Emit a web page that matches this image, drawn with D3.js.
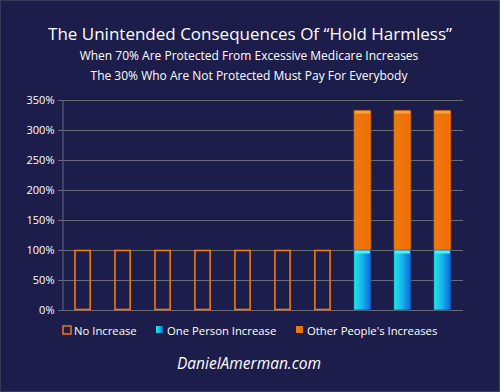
<!DOCTYPE html>
<html>
<head>
<meta charset="utf-8">
<script src="https://cdn.jsdelivr.net/npm/d3@7"></script>
<style>
  body { margin: 0; background: #1d1d4b; }
  svg { display: block; font-family: "Open Sans", "Liberation Sans", sans-serif; }
</style>
</head>
<body>
<svg width="500" height="392"></svg>
<script>
// chart data
var categories = ['1', '2', '3', '4', '5', '6', '7', '8', '9', '10'];
var noIncrease = [100, 100, 100, 100, 100, 100, 100, 0, 0, 0];
var onePerson = [0, 0, 0, 0, 0, 0, 0, 100, 100, 100];
var otherPeople = [0, 0, 0, 0, 0, 0, 0, 233, 233, 233];
var yTicks = [0, 50, 100, 150, 200, 250, 300, 350];
var legendLabels = ['No Increase', 'One Person Increase', "Other People's Increases"];

var svg = d3.select('svg');

svg.append('rect')
  .attr('x', 0.5).attr('y', 0.5)
  .attr('width', 499).attr('height', 391)
  .style('fill', '#1d1d4b')
  .style('stroke', '#3a3a55');

// gradients
var defs = svg.append('defs');
var blue = defs.append('linearGradient').attr('id', 'blueGrad')
  .attr('x1', '0%').attr('x2', '100%').attr('y1', '0%').attr('y2', '0%');
blue.append('stop').attr('offset', '0%').attr('stop-color', '#22e6e6');
blue.append('stop').attr('offset', '45%').attr('stop-color', '#18b8ee');
blue.append('stop').attr('offset', '100%').attr('stop-color', '#1062d8');
var orange = defs.append('linearGradient').attr('id', 'orangeGrad')
  .attr('x1', '0%').attr('x2', '100%').attr('y1', '0%').attr('y2', '0%');
orange.append('stop').attr('offset', '0%').attr('stop-color', '#f0780c');
orange.append('stop').attr('offset', '100%').attr('stop-color', '#ee700a');

// titles
svg.append('text')
  .attr('x', 250).attr('y', 40)
  .attr('text-anchor', 'middle')
  .style('fill', '#ffffff')
  .style('font-size', '17px')
  .text('The Unintended Consequences Of \u201cHold Harmless\u201d');
svg.append('text')
  .attr('x', 249).attr('y', 60)
  .attr('text-anchor', 'middle')
  .style('fill', '#ffffff')
  .style('font-size', '12px')
  .text('When 70% Are Protected From Excessive Medicare Increases');
svg.append('text')
  .attr('x', 249).attr('y', 80)
  .attr('text-anchor', 'middle')
  .style('fill', '#ffffff')
  .style('font-size', '12px')
  .text('The 30% Who Are Not Protected Must Pay For Everybody');

// scales
var x = d3.scaleBand()
  .domain(categories)
  .range([62, 463])
  .paddingInner(0.57)
  .paddingOuter(0.3);

var y = d3.scaleLinear()
  .domain([0, 350])
  .range([310, 100]);

// grid
svg.append('g')
  .selectAll('line')
  .data(yTicks)
  .enter()
  .append('line')
  .attr('x1', 58).attr('x2', 463)
  .attr('y1', function(d) { return y(d) + 0.5; })
  .attr('y2', function(d) { return y(d) + 0.5; })
  .style('stroke', '#6a6a78')
  .style('stroke-width', 1);

// y axis
var yAxis = svg.append('g')
  .attr('transform', 'translate(62.5,0)')
  .call(d3.axisLeft(y).tickValues(yTicks).tickSize(0).tickPadding(8)
    .tickFormat(function(d) { return d + '%'; }));
yAxis.select('.domain').style('stroke', '#6a6a78');
yAxis.selectAll('text')
  .style('fill', '#ffffff')
  .style('font-size', '11px')
  .style('font-family', '"Open Sans", sans-serif');

// no increase outlines
svg.append('g')
  .selectAll('rect')
  .data(noIncrease)
  .enter()
  .filter(function(d) { return d > 0; })
  .append('rect')
  .attr('x', function(d, i) { return x(categories[i]) + 1; })
  .attr('y', function(d) { return y(d) + 0.5; })
  .attr('width', x.bandwidth() - 2)
  .attr('height', function(d) { return y(0) - y(d) - 1; })
  .style('fill', 'none')
  .style('stroke', '#f07a10')
  .style('stroke-width', 1.6);

// stacked bars
var stacked = svg.append('g');
onePerson.forEach(function(v, i) {
  if (v <= 0) return;
  var bx = x(categories[i]);
  var top = v + otherPeople[i];
  stacked.append('rect')
    .attr('x', bx).attr('y', y(v))
    .attr('width', x.bandwidth())
    .attr('height', y(0) - y(v))
    .style('fill', 'url(#blueGrad)')
    .style('stroke', '#16346a').style('stroke-width', 0.6);
  stacked.append('rect')
    .attr('x', bx).attr('y', y(top))
    .attr('width', x.bandwidth())
    .attr('height', y(v) - y(top))
    .style('fill', 'url(#orangeGrad)')
    .style('stroke', '#7a4020').style('stroke-width', 0.6);
  // bevel highlight on top
  stacked.append('rect')
    .attr('x', bx + 1).attr('y', y(top) + 0.5)
    .attr('width', x.bandwidth() - 2).attr('height', 3)
    .style('fill', '#f8a040');
  stacked.append('rect')
    .attr('x', bx + 1).attr('y', y(v) + 0.5)
    .attr('width', x.bandwidth() - 2).attr('height', 3)
    .style('fill', '#50f0f8');
});

// legend
var legend = svg.append('g').attr('transform', 'translate(0,331)');
var legendX = [63, 156, 296];
legend.append('rect')
  .attr('x', legendX[0]).attr('y', -5)
  .attr('width', 8).attr('height', 8)
  .style('fill', 'none').style('stroke', '#f07a10').style('stroke-width', 1.5);
legend.append('rect')
  .attr('x', legendX[1]).attr('y', -5)
  .attr('width', 7).attr('height', 7)
  .style('fill', 'url(#blueGrad)');
legend.append('rect')
  .attr('x', legendX[2]).attr('y', -5)
  .attr('width', 7).attr('height', 7)
  .style('fill', 'url(#orangeGrad)');
legend.selectAll('text')
  .data(legendLabels)
  .enter()
  .append('text')
  .attr('x', function(d, i) { return legendX[i] + 11; })
  .attr('y', 4)
  .style('fill', '#ffffff')
  .style('font-size', '11.3px')
  .text(function(d) { return d; });

// footer
svg.append('text')
  .attr('x', 249).attr('y', 369)
  .attr('text-anchor', 'middle')
  .style('fill', '#ffffff')
  .style('font-size', '15.5px')
  .style('font-style', 'italic')
  .text('DanielAmerman.com');
</script>
</body>
</html>
